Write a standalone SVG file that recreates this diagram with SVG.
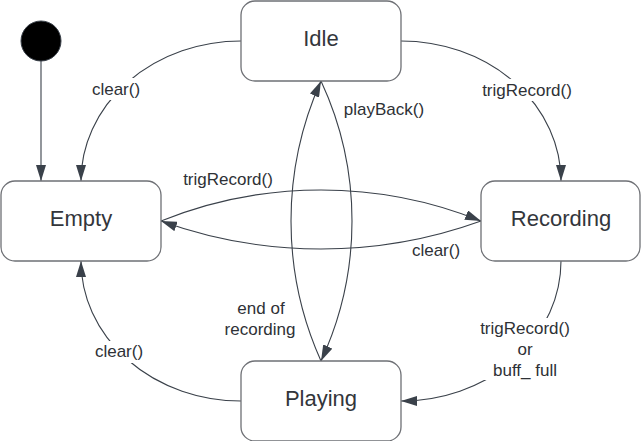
<svg xmlns="http://www.w3.org/2000/svg" width="641" height="441" viewBox="0 0 641 441">
<style>
.box{fill:#ffffff;stroke:#6e7075;stroke-width:1.3}
.name{font-family:"Liberation Sans",Arial,sans-serif;font-size:22px;fill:#33363b;text-anchor:middle}
.lbl{font-family:"Liberation Sans",Arial,sans-serif;font-size:17px;fill:#2e3136;text-anchor:middle}
.conn{fill:none;stroke:#3a414a;stroke-width:1.1;marker-end:url(#arr)}
.bg{fill:#ffffff}
</style>
<defs>
<marker id="arr" markerUnits="userSpaceOnUse" markerWidth="16" markerHeight="10" refX="16" refY="5" orient="auto">
<path d="M0,0 L16,5 L0,10 z" fill="#3a414a"/>
</marker>
</defs>
<rect width="641" height="441" fill="#ffffff"/>
<g id="connectors">
<path class="conn" d="M41,61 L41,181"/>
<path class="conn" d="M241,41 A160,140 0 0 0 81,181"/>
<path class="conn" d="M401,41 A160,140 0 0 1 561,181"/>
<path class="conn" d="M161,221 A428,428 0 0 1 481,221"/>
<path class="conn" d="M481,221 A471,471 0 0 1 161,221"/>
<path class="conn" d="M321,81 A331.6,331.6 0 0 1 321,361"/>
<path class="conn" d="M321,361 A341.7,341.7 0 0 1 321,81"/>
<path class="conn" d="M561,261 A160,140 0 0 1 401,401"/>
<path class="conn" d="M241,401 A160,140 0 0 1 81,261"/>
<rect class="bg" x="90" y="78" width="52" height="22"/>
<text class="lbl" x="116" y="95">clear()</text>
<rect class="bg" x="480" y="79" width="94" height="22"/>
<text class="lbl" x="527" y="96">trigRecord()</text>
<text class="lbl" x="228" y="185">trigRecord()</text>
<text class="lbl" x="436" y="256">clear()</text>
<text class="lbl" x="384" y="115">playBack()</text>
<text class="lbl" x="261" y="314">end of</text>
<text class="lbl" x="260" y="335">recording</text>
<rect class="bg" x="477" y="318" width="96" height="62"/>
<text class="lbl" x="525" y="334">trigRecord()</text>
<text class="lbl" x="525" y="355">or</text>
<text class="lbl" x="525" y="376">buff_ full</text>
<rect class="bg" x="93" y="341" width="52" height="22"/>
<text class="lbl" x="119" y="357">clear()</text>
</g>
<g id="initial">
<circle cx="41" cy="41" r="20" fill="#000000" stroke="#3a414a" stroke-width="1"/>
</g>
<g id="idle">
<rect class="box" x="241" y="1" width="160" height="80" rx="14"/>
<text class="name" x="321" y="46">Idle</text>
</g>
<g id="empty">
<rect class="box" x="1" y="181" width="160" height="80" rx="14"/>
<text class="name" x="81" y="226">Empty</text>
</g>
<g id="recording">
<rect class="box" x="481" y="181" width="159" height="80" rx="14"/>
<text class="name" x="561" y="226">Recording</text>
</g>
<g id="playing">
<rect class="box" x="241" y="361" width="160" height="80" rx="14"/>
<text class="name" x="321" y="406">Playing</text>
</g>
</svg>
